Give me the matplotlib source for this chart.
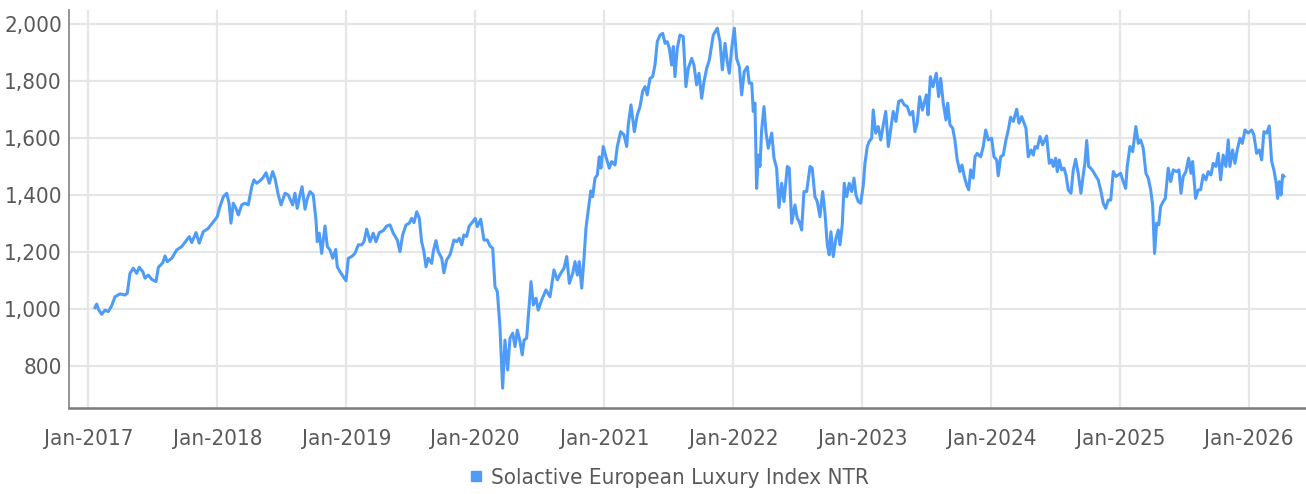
import matplotlib
matplotlib.use("Agg")
import matplotlib.pyplot as plt
import matplotlib.font_manager as fm
from matplotlib.lines import Line2D
from matplotlib.ticker import FuncFormatter

# time as decimal years
years = [
    2017.052, 2017.065, 2017.078, 2017.104, 2017.129, 2017.155, 2017.181, 2017.207, 2017.246, 2017.284,
    2017.302, 2017.323, 2017.349, 2017.375, 2017.395, 2017.422, 2017.440, 2017.465, 2017.491, 2017.525,
    2017.543, 2017.577, 2017.595, 2017.612, 2017.647, 2017.685, 2017.724, 2017.763, 2017.783, 2017.802,
    2017.835, 2017.860, 2017.891, 2017.930, 2017.969, 2018.000, 2018.016, 2018.047, 2018.073, 2018.091,
    2018.106, 2018.124, 2018.145, 2018.163, 2018.189, 2018.215, 2018.240, 2018.267, 2018.284, 2018.305,
    2018.331, 2018.352, 2018.378, 2018.403, 2018.429, 2018.447, 2018.473, 2018.494, 2018.525, 2018.550,
    2018.584, 2018.602, 2018.620, 2018.641, 2018.657, 2018.680, 2018.698, 2018.719, 2018.744, 2018.765,
    2018.775, 2018.791, 2018.809, 2018.835, 2018.853, 2018.874, 2018.895, 2018.918, 2018.930, 2018.951,
    2018.977, 2018.998, 2019.016, 2019.042, 2019.067, 2019.093, 2019.119, 2019.137, 2019.158, 2019.184,
    2019.209, 2019.230, 2019.256, 2019.287, 2019.313, 2019.339, 2019.364, 2019.395, 2019.416, 2019.437,
    2019.463, 2019.488, 2019.507, 2019.525, 2019.546, 2019.566, 2019.584, 2019.602, 2019.618, 2019.636,
    2019.662, 2019.674, 2019.695, 2019.713, 2019.740, 2019.757, 2019.778, 2019.804, 2019.835, 2019.856,
    2019.876, 2019.895, 2019.912, 2019.933, 2019.953, 2019.980, 2020.000, 2020.016, 2020.042, 2020.067,
    2020.093, 2020.114, 2020.135, 2020.153, 2020.171, 2020.191, 2020.212, 2020.230, 2020.251, 2020.269,
    2020.290, 2020.308, 2020.326, 2020.347, 2020.364, 2020.378, 2020.398, 2020.411, 2020.432, 2020.450,
    2020.471, 2020.488, 2020.515, 2020.548, 2020.579, 2020.610, 2020.636, 2020.662, 2020.688, 2020.709,
    2020.729, 2020.755, 2020.773, 2020.791, 2020.806, 2020.825, 2020.843, 2020.858, 2020.876, 2020.895,
    2020.910, 2020.928, 2020.946, 2020.961, 2020.974, 2020.992, 2021.013, 2021.039, 2021.057, 2021.083,
    2021.101, 2021.127, 2021.153, 2021.174, 2021.186, 2021.207, 2021.233, 2021.256, 2021.277, 2021.298,
    2021.316, 2021.333, 2021.354, 2021.375, 2021.393, 2021.411, 2021.432, 2021.453, 2021.471, 2021.488,
    2021.504, 2021.522, 2021.535, 2021.548, 2021.566, 2021.587, 2021.612, 2021.633, 2021.651, 2021.678,
    2021.695, 2021.716, 2021.734, 2021.755, 2021.773, 2021.794, 2021.814, 2021.845, 2021.876, 2021.897,
    2021.915, 2021.936, 2021.953, 2021.969, 2021.988, 2022.008, 2022.026, 2022.047, 2022.065, 2022.085,
    2022.109, 2022.124, 2022.143, 2022.155, 2022.168, 2022.181, 2022.194, 2022.207, 2022.220, 2022.238,
    2022.253, 2022.271, 2022.298, 2022.316, 2022.336, 2022.354, 2022.375, 2022.393, 2022.419, 2022.434,
    2022.453, 2022.478, 2022.496, 2022.512, 2022.530, 2022.548, 2022.569, 2022.595, 2022.612, 2022.633,
    2022.651, 2022.672, 2022.693, 2022.711, 2022.729, 2022.744, 2022.757, 2022.775, 2022.796, 2022.814,
    2022.827, 2022.845, 2022.860, 2022.879, 2022.899, 2022.918, 2022.936, 2022.951, 2022.969, 2022.988,
    2023.008, 2023.021, 2023.039, 2023.054, 2023.073, 2023.085, 2023.104, 2023.124, 2023.143, 2023.163,
    2023.182, 2023.202, 2023.220, 2023.240, 2023.261, 2023.282, 2023.305, 2023.326, 2023.349, 2023.370,
    2023.391, 2023.408, 2023.426, 2023.445, 2023.466, 2023.484, 2023.497, 2023.510, 2023.528, 2023.548,
    2023.574, 2023.592, 2023.608, 2023.628, 2023.649, 2023.662, 2023.680, 2023.701, 2023.718, 2023.736,
    2023.757, 2023.773, 2023.791, 2023.809, 2023.825, 2023.840, 2023.860, 2023.874, 2023.891, 2023.918,
    2023.938, 2023.957, 2023.977, 2024.003, 2024.021, 2024.042, 2024.054, 2024.073, 2024.093, 2024.114,
    2024.132, 2024.150, 2024.171, 2024.197, 2024.215, 2024.236, 2024.254, 2024.269, 2024.287, 2024.308,
    2024.326, 2024.339, 2024.357, 2024.378, 2024.398, 2024.416, 2024.429, 2024.450, 2024.468, 2024.481,
    2024.499, 2024.512, 2024.527, 2024.546, 2024.564, 2024.579, 2024.597, 2024.618, 2024.636, 2024.654,
    2024.674, 2024.695, 2024.713, 2024.726, 2024.740, 2024.755, 2024.771, 2024.791, 2024.812, 2024.829,
    2024.848, 2024.868, 2024.887, 2024.907, 2024.926, 2024.946, 2024.967, 2024.984, 2025.003, 2025.023,
    2025.042, 2025.054, 2025.075, 2025.096, 2025.121, 2025.140, 2025.158, 2025.178, 2025.199, 2025.217,
    2025.236, 2025.251, 2025.266, 2025.282, 2025.298, 2025.313, 2025.333, 2025.349, 2025.372, 2025.391,
    2025.411, 2025.437, 2025.455, 2025.471, 2025.488, 2025.509, 2025.530, 2025.548, 2025.561, 2025.584,
    2025.605, 2025.623, 2025.643, 2025.664, 2025.682, 2025.703, 2025.721, 2025.742, 2025.760, 2025.778,
    2025.798, 2025.819, 2025.837, 2025.850, 2025.871, 2025.889, 2025.907, 2025.928, 2025.946, 2025.967,
    2025.992, 2026.019, 2026.036, 2026.057, 2026.078, 2026.096, 2026.114, 2026.135, 2026.155, 2026.174,
    2026.191, 2026.207, 2026.220, 2026.233, 2026.246, 2026.259, 2026.269,
]
index_ntr = [
    1005, 1017, 999, 981, 996, 991, 1011, 1043, 1053, 1049,
    1055, 1125, 1143, 1125, 1146, 1131, 1108, 1119, 1104, 1096,
    1146, 1162, 1186, 1166, 1178, 1207, 1219, 1242, 1254, 1233,
    1268, 1231, 1271, 1283, 1306, 1324, 1353, 1394, 1406, 1371,
    1301, 1371, 1353, 1330, 1365, 1371, 1365, 1429, 1453, 1441,
    1450, 1459, 1478, 1441, 1482, 1459, 1400, 1365, 1406, 1400,
    1365, 1406, 1353, 1400, 1429, 1350, 1388, 1412, 1400, 1312,
    1236, 1266, 1195, 1291, 1219, 1207, 1178, 1209, 1148, 1131,
    1113, 1099, 1178, 1184, 1195, 1225, 1225, 1236, 1280, 1236,
    1266, 1236, 1268, 1275, 1291, 1295, 1266, 1242, 1201, 1260,
    1295, 1301, 1318, 1303, 1341, 1318, 1236, 1201, 1148, 1178,
    1160, 1201, 1240, 1201, 1178, 1127, 1172, 1190, 1242, 1236,
    1248, 1225, 1260, 1254, 1291, 1306, 1318, 1289, 1315, 1242,
    1242, 1221, 1213, 1078, 1061, 938, 722, 891, 786, 897,
    915, 868, 926, 885, 839, 891, 897, 973, 1096, 1014,
    1038, 996, 1032, 1067, 1043, 1137, 1102, 1125, 1143, 1184,
    1090, 1125, 1166, 1119, 1166, 1073, 1178, 1283, 1347, 1414,
    1394, 1459, 1470, 1534, 1494, 1570, 1534, 1494, 1517, 1505,
    1570, 1622, 1611, 1570, 1646, 1716, 1622, 1681, 1710, 1765,
    1780, 1751, 1809, 1815, 1856, 1938, 1961, 1967, 1932, 1938,
    1915, 1856, 1921, 1815, 1915, 1961, 1956, 1780, 1844, 1879,
    1856, 1786, 1827, 1739, 1798, 1844, 1873, 1961, 1985, 1938,
    1839, 1932, 1868, 1827, 1915, 1985, 1879, 1850, 1751, 1833,
    1850, 1792, 1792, 1693, 1722, 1423, 1540, 1500, 1628, 1710,
    1622, 1564, 1617, 1529, 1494, 1356, 1441, 1377, 1500, 1494,
    1301, 1365, 1318, 1306, 1277, 1412, 1412, 1500, 1494, 1394,
    1377, 1324, 1412, 1336, 1225, 1190, 1271, 1184, 1248, 1277,
    1225, 1295, 1441, 1394, 1441, 1412, 1459, 1400, 1377, 1371,
    1435, 1511, 1570, 1588, 1599, 1698, 1617, 1640, 1593, 1646,
    1693, 1570, 1628, 1693, 1658, 1728, 1733, 1716, 1710, 1681,
    1693, 1622, 1652, 1745, 1698, 1728, 1751, 1681, 1815, 1780,
    1827, 1745, 1809, 1722, 1663, 1722, 1646, 1634, 1593, 1523,
    1482, 1505, 1465, 1435, 1418, 1488, 1459, 1534, 1546, 1534,
    1570, 1628, 1593, 1599, 1534, 1523, 1467, 1534, 1540, 1593,
    1628, 1673, 1658, 1701, 1652, 1675, 1652, 1634, 1534, 1558,
    1540, 1570, 1564, 1605, 1576, 1593, 1607, 1511, 1523, 1500,
    1529, 1482, 1523, 1488, 1494, 1470, 1418, 1406, 1488, 1525,
    1476, 1406, 1470, 1511, 1591, 1500, 1494, 1482, 1465, 1453,
    1418, 1371, 1353, 1382, 1382, 1482, 1465, 1470, 1476, 1447,
    1423, 1500, 1570, 1552, 1640, 1581, 1593, 1564, 1476, 1459,
    1418, 1365, 1195, 1301, 1295, 1359, 1377, 1388, 1494, 1447,
    1488, 1482, 1488, 1406, 1465, 1482, 1529, 1476, 1517, 1388,
    1418, 1418, 1470, 1453, 1482, 1470, 1511, 1500, 1546, 1453,
    1540, 1500, 1593, 1500, 1558, 1511, 1558, 1599, 1581, 1628,
    1617, 1628, 1611, 1546, 1558, 1523, 1622, 1617, 1642, 1517,
    1488, 1447, 1388, 1447, 1400, 1470, 1465,
]
tick_years = [2017, 2018, 2019, 2020, 2021, 2022, 2023, 2024, 2025, 2026]
tick_labels = ["Jan-" + str(y) for y in tick_years]
y_ticks = [800, 1000, 1200, 1400, 1600, 1800, 2000]
series_name = "Solactive European Luxury Index NTR"

# look for a narrow / condensed face, otherwise fall back to Roboto
font_file = None
for f in fm.fontManager.ttflist:
    fname = f.fname.lower()
    if ("narrow" in fname or "condensed" in fname) and not any(
            s in fname for s in ["bold", "oblique", "italic", "black", "semibold"]):
        font_file = f.fname
        break

if font_file:
    fp = fm.FontProperties(fname=font_file, size=16)
    fp_leg = fm.FontProperties(fname=font_file, size=16)
else:
    fp = fm.FontProperties(family=["Roboto", "DejaVu Sans"], weight="light", size=14)
    fp_leg = fm.FontProperties(family=["Roboto", "DejaVu Sans"], weight="light", size=13.2)

line_color = "#4f9cf8"
text_color = "#595959"

fig = plt.figure(figsize=(13.06, 4.94), dpi=100)
ax = fig.add_axes([0.0528, 0.1741, 0.9472, 0.8057])

ax.plot(years, index_ntr, color=line_color, lw=2.2, solid_joinstyle="round")

ax.set_xlim(2016.85, 2026.44)
ax.set_ylim(652.6, 2049)
ax.set_xticks(tick_years)
ax.set_xticklabels(tick_labels)
ax.set_yticks(y_ticks)
ax.yaxis.set_major_formatter(FuncFormatter(lambda v, p: f"{v:,.0f}"))

ax.grid(True, color="#e6e6e6", lw=1.6)
ax.set_axisbelow(True)
ax.tick_params(axis="both", length=0, colors=text_color)
ax.tick_params(axis="x", pad=15)
ax.tick_params(axis="y", pad=5)
for lab in ax.get_xticklabels() + ax.get_yticklabels():
    lab.set_fontproperties(fp)

for side in ["top", "right"]:
    ax.spines[side].set_visible(False)
ax.spines["left"].set_color("#8c8c8c")
ax.spines["left"].set_linewidth(1.3)
ax.spines["bottom"].set_color("#7a7a7a")
ax.spines["bottom"].set_linewidth(1.8)

handle = Line2D([], [], marker="s", color=line_color, ls="none", markersize=7.5)
fig.legend([handle], [series_name], loc="center", bbox_to_anchor=(0.512, 0.032),
           frameon=False, prop=fp_leg, handlelength=0.7, handletextpad=0.3,
           labelcolor=text_color)

fig.savefig("out.png", dpi=100)
